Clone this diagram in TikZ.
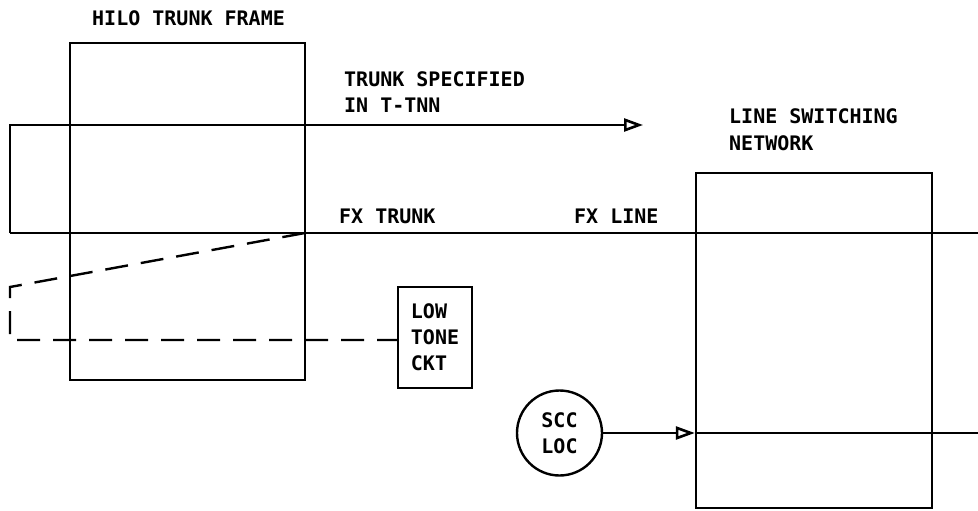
\documentclass[tikz,border=0pt]{standalone}
\usepackage{fontspec}
\newfontfamily\plotfont{DejaVu Sans Mono}
\usetikzlibrary{arrows.meta}
\begin{document}
\begin{tikzpicture}[x=1pt,y=-1pt,
  every node/.style={font=\plotfont\bfseries\fontsize{20}{26}\selectfont},
  wire/.style={line width=2.4pt},
  dashwire/.style={line width=2.4pt, dash pattern=on 23pt off 13pt},
  boxnode/.style={draw, line width=2.4pt, rectangle, inner sep=0pt},
  lbl/.style={anchor=base west, inner sep=0pt},
  opentip/.style={-{Triangle[open,length=19pt,width=13pt,line width=2.6pt]}}
]
\useasboundingbox (0,0) rectangle (978,511);
% frames
\node[boxnode, minimum width=235pt, minimum height=337pt] (hilo) at (187.5,211.5) {};
\node[boxnode, minimum width=236pt, minimum height=335pt] (lsn) at (814,340.5) {};
\node[boxnode, minimum width=74pt, minimum height=101pt, align=left] (ltc) at (435,337.5) {LOW\\TONE\\CKT};
\node[draw, line width=2.4pt, circle, minimum size=85pt, inner sep=0pt, align=center] (scc) at (559.5,433) {SCC\\LOC};
% labels
\node[lbl] (thilo) at (92,26) {HILO TRUNK FRAME};
\node[lbl] (tts1) at (344,87) {TRUNK SPECIFIED};
\node[lbl] (tts2) at (344,113) {IN T-TNN};
\node[lbl] (tlsn1) at (729,124) {LINE SWITCHING};
\node[lbl] (tlsn2) at (729,150) {NETWORK};
\node[lbl] (tfxt) at (339,223) {FX TRUNK};
\node[lbl] (tfxl) at (574,223) {FX LINE};
% coordinates
\coordinate (lt) at (10,125);
\coordinate (lb) at (10,233);
\coordinate (tip) at (643,125);
\coordinate (re) at (978,233);
\coordinate (fxj) at (305,233);
\coordinate (dt) at (10,287);
\coordinate (dl) at (10,340);
\coordinate (redge) at (978,433);
% connectors
\draw[wire, opentip] (lb) -- (lt) -- (tip);
\draw[wire] (lb) -- (re);
\draw[dashwire] (fxj) -- (dt) -- (dl) -- (ltc.west |- dl);
\draw[wire, opentip] (scc.east) -- (scc.east -| lsn.west);
\draw[wire] (scc.east -| lsn.west) -- (redge |- scc.east);
\end{tikzpicture}
\end{document}
